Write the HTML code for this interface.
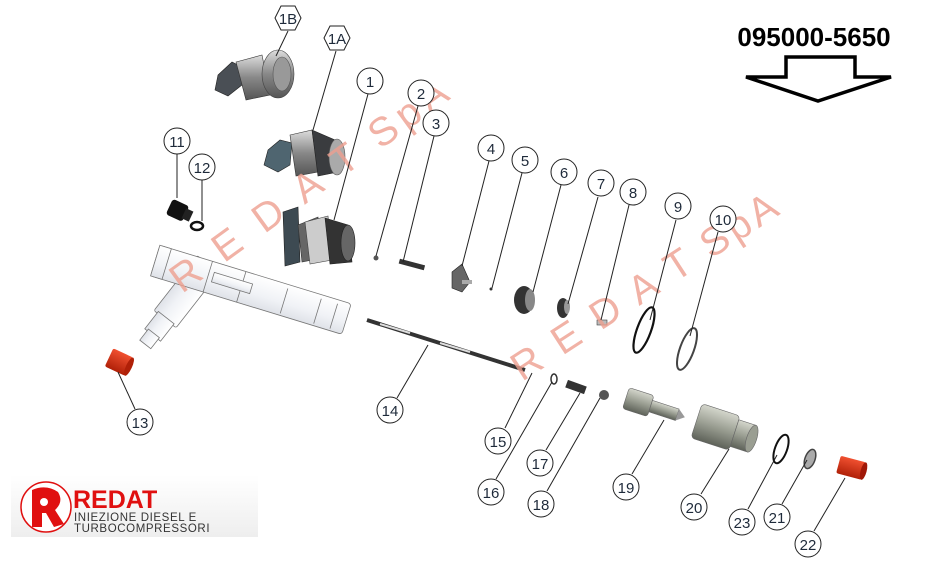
<!DOCTYPE html>
<html><head><meta charset="utf-8"><style>
html,body{margin:0;padding:0;background:#fff;width:929px;height:567px;overflow:hidden}
svg{display:block}
.c{fill:#fff;stroke:#222;stroke-width:1}
.t{font-family:"Liberation Sans",sans-serif;font-size:15px;fill:#1e2a3a;text-anchor:middle}
.l{stroke:#222;stroke-width:1;fill:none}
.wm{font-family:"Liberation Sans",sans-serif;font-size:40px;fill:#eea090;opacity:.8}
</style></head><body>
<svg width="929" height="567" viewBox="0 0 929 567" xmlns="http://www.w3.org/2000/svg">
<defs>
<linearGradient id="lg" x1="0" y1="0" x2="0" y2="1"><stop offset="0" stop-color="#fff"/><stop offset="1" stop-color="#eee"/></linearGradient>
<linearGradient id="met" x1="0" y1="0" x2="0" y2="1"><stop offset="0" stop-color="#ddd"/><stop offset=".5" stop-color="#888"/><stop offset="1" stop-color="#555"/></linearGradient>
<linearGradient id="grn" x1="0" y1="0" x2="0" y2="1"><stop offset="0" stop-color="#d4d6cc"/><stop offset=".5" stop-color="#9a9e92"/><stop offset="1" stop-color="#5e6259"/></linearGradient>
<linearGradient id="wh" x1="0" y1="0" x2="0" y2="1"><stop offset="0" stop-color="#fff"/><stop offset=".6" stop-color="#f0f2f6"/><stop offset="1" stop-color="#dfe2e8"/></linearGradient>
<linearGradient id="red" x1="0" y1="0" x2="0" y2="1"><stop offset="0" stop-color="#f05030"/><stop offset="1" stop-color="#b02008"/></linearGradient>
</defs>

<!-- title -->
<text x="814" y="46" font-family="Liberation Sans,sans-serif" font-weight="bold" font-size="26" text-anchor="middle" fill="#000">095000-5650</text>
<path d="M786,57 L855,57 L855,77 L891,77 L818,101 L746,77 L786,77 Z" fill="#fff" stroke="#000" stroke-width="3.5"/>

<!-- injector body -->
<g stroke="#777" stroke-width="0.8" fill="url(#wh)">
<g transform="rotate(128 205 268)">
<rect x="200" y="254" width="70" height="28" rx="2"/>
<rect x="268" y="258" width="22" height="20"/>
<rect x="288" y="261" width="14" height="14"/>
</g>
<g transform="rotate(17 160 262)">
<rect x="155" y="246" width="200" height="32" rx="3"/>
<rect x="155" y="246" width="12" height="32"/>
<path d="M210,246 L210,278 M245,246 L245,278 M290,250 L290,276 M325,250 L325,276 M342,250 L342,276"/>
<rect x="215" y="256" width="40" height="10"/>
</g>
</g>

<!-- 1B -->
<g>
<path d="M218,75 L232,62 L240,66 L242,85 L228,96 L215,90 Z" fill="#4a4f55" stroke="#222" stroke-width=".6"/>
<path d="M236,62 L262,55 L270,95 L246,100 Z" fill="url(#met)" stroke="#333" stroke-width=".6"/>
<ellipse cx="278" cy="74" rx="16" ry="24" fill="url(#met)" stroke="#444" stroke-width=".6"/>
<ellipse cx="282" cy="74" rx="9" ry="17" fill="#999" stroke="#555" stroke-width=".6"/>
</g>
<!-- 1A -->
<g>
<path d="M268,150 L280,140 L292,143 L290,165 L278,172 L264,165 Z" fill="#4f6570" stroke="#222" stroke-width=".6"/>
<path d="M290,135 L312,130 L318,172 L296,176 Z" fill="url(#met)" stroke="#333" stroke-width=".6"/>
<path d="M312,130 L335,140 L338,172 L318,176 Z" fill="#3a3c3f" stroke="#222" stroke-width=".6"/>
<ellipse cx="337" cy="157" rx="8" ry="18" fill="#aaa" stroke="#555" stroke-width=".6"/>
</g>
<!-- 1 -->
<g>
<path d="M283,212 L298,207 L300,262 L285,266 Z" fill="#3d4a52" stroke="#222" stroke-width=".6"/>
<path d="M298,225 L318,217 L322,258 L302,262 Z" fill="#666" stroke="#333" stroke-width=".6"/>
<path d="M305,222 L328,216 L332,260 L310,264 Z" fill="#ccc" stroke="#444" stroke-width=".6"/>
<path d="M325,218 L348,225 L352,262 L330,264 Z" fill="#333" stroke="#222" stroke-width=".6"/>
<ellipse cx="348" cy="243" rx="7" ry="18" fill="#666" stroke="#222" stroke-width=".6"/>
</g>
<!-- 11, 12 -->
<g transform="rotate(25 180 212)"><rect x="168" y="203" width="18" height="17" rx="3" fill="#111"/><rect x="184" y="206" width="8" height="11" fill="#222"/></g>
<ellipse cx="197" cy="226" rx="6" ry="4" fill="none" stroke="#111" stroke-width="2.5"/>
<!-- 13 -->
<g transform="rotate(25 119 362)"><rect x="108" y="352" width="22" height="20" rx="2" fill="url(#red)"/><ellipse cx="130" cy="362" rx="3" ry="10" fill="#b02008"/></g>
<!-- small parts -->
<circle cx="376" cy="258" r="2.5" fill="#555"/>
<rect x="399" y="262" width="26" height="5" fill="#333" transform="rotate(15 412 264)"/>
<path d="M452,272 L462,264 L470,282 L462,292 L452,288 Z" fill="#666" stroke="#222" stroke-width=".6"/>
<rect x="462" y="280" width="10" height="4" fill="#aaa"/>
<circle cx="491" cy="289" r="1.5" fill="#333"/>
<ellipse cx="524" cy="300" rx="10" ry="14" fill="#333"/><ellipse cx="530" cy="300" rx="5" ry="11" fill="#888"/>
<ellipse cx="563" cy="308" rx="6" ry="10" fill="#333"/><ellipse cx="567" cy="307" rx="3" ry="7" fill="#999"/>
<rect x="597" y="320" width="10" height="5" fill="#bbb" stroke="#444" stroke-width=".6"/>
<ellipse cx="644" cy="330" rx="7" ry="24" fill="none" stroke="#111" stroke-width="2.2" transform="rotate(20 644 330)"/>
<ellipse cx="687" cy="349" rx="7" ry="22" fill="none" stroke="#444" stroke-width="2" transform="rotate(20 687 349)"/>
<!-- 14 rod -->
<path d="M367,320 L525,370" stroke="#333" stroke-width="4"/>
<path d="M380,324 L410,333 M440,343 L470,352" stroke="#ddd" stroke-width="2"/>
<!-- 15-18 -->
<ellipse cx="554" cy="379" rx="3" ry="5" fill="none" stroke="#333" stroke-width="1.5"/>
<rect x="566" y="383" width="20" height="8" fill="#333" transform="rotate(20 576 387)"/>
<ellipse cx="604" cy="395" rx="5" ry="5" fill="#555"/>
<!-- 19 nozzle -->
<g transform="rotate(18 650 408)">
<rect x="624" y="395" width="26" height="22" rx="3" fill="url(#grn)" stroke="#666" stroke-width=".6"/>
<rect x="650" y="400" width="28" height="12" fill="url(#grn)" stroke="#666" stroke-width=".6"/>
<path d="M678,400 L686,406 L678,412 Z" fill="#999"/>
</g>
<!-- 20 -->
<g transform="rotate(18 725 430)">
<rect x="695" y="412" width="40" height="36" rx="4" fill="url(#grn)" stroke="#666" stroke-width=".6"/>
<rect x="735" y="416" width="18" height="28" fill="url(#grn)" stroke="#666" stroke-width=".6"/>
<ellipse cx="753" cy="430" rx="5" ry="14" fill="#9a9e92" stroke="#666" stroke-width=".6"/>
</g>
<!-- 23,21,22 -->
<ellipse cx="781" cy="449" rx="6" ry="15" fill="none" stroke="#111" stroke-width="2" transform="rotate(20 781 449)"/>
<ellipse cx="810" cy="459" rx="5" ry="10" fill="#aaa" stroke="#444" stroke-width="1.5" transform="rotate(20 810 459)"/>
<g transform="rotate(15 852 468)"><rect x="838" y="459" width="26" height="18" rx="2" fill="url(#red)"/><ellipse cx="864" cy="468" rx="3" ry="9" fill="#a01808"/></g>

<!-- watermarks -->
<text class="wm" transform="translate(182,294) rotate(-36)" letter-spacing="6">R E D A T SpA</text>
<text class="wm" transform="translate(522,382) rotate(-33)" letter-spacing="4">R E D A T SpA</text>

<!-- leaders -->
<g class="l">
<line x1="288" y1="31" x2="276" y2="56"/>
<line x1="336" y1="51" x2="313" y2="130"/>
<line x1="368" y1="94" x2="334" y2="220"/>
<line x1="418" y1="106" x2="376" y2="256"/>
<line x1="434" y1="136" x2="403" y2="262"/>
<line x1="489" y1="161" x2="462" y2="266"/>
<line x1="522" y1="173" x2="492" y2="288"/>
<line x1="561" y1="185" x2="533" y2="292"/>
<line x1="598" y1="197" x2="568" y2="304"/>
<line x1="629" y1="205" x2="601" y2="320"/>
<line x1="676" y1="220" x2="650" y2="320"/>
<line x1="718" y1="232" x2="690" y2="336"/>
<line x1="177" y1="154" x2="177" y2="198"/>
<line x1="202" y1="180" x2="202" y2="221"/>
<line x1="135" y1="409" x2="118" y2="372"/>
<line x1="397" y1="398" x2="428" y2="345"/>
<line x1="505" y1="428" x2="532" y2="373"/>
<line x1="496" y1="479" x2="552" y2="382"/>
<line x1="546" y1="450" x2="580" y2="393"/>
<line x1="547" y1="491" x2="600" y2="398"/>
<line x1="632" y1="474" x2="664" y2="420"/>
<line x1="701" y1="494" x2="729" y2="449"/>
<line x1="748" y1="509" x2="777" y2="455"/>
<line x1="782" y1="504" x2="807" y2="460"/>
<line x1="814" y1="531" x2="845" y2="478"/>
</g>

<!-- hex labels -->
<polygon points="275,18 281,6 295,6 301,18 295,30 281,30" class="c"/>
<text x="288" y="24" class="t">1B</text>
<polygon points="324,38 330,26 344,26 350,38 344,50 330,50" class="c"/>
<text x="337" y="44" class="t">1A</text>

<!-- circle labels -->
<g>
<circle cx="370" cy="81" r="13" class="c"/><text x="370" y="87" class="t">1</text>
<circle cx="421" cy="93" r="13" class="c"/><text x="421" y="99" class="t">2</text>
<circle cx="436" cy="123" r="13" class="c"/><text x="436" y="129" class="t">3</text>
<circle cx="491" cy="148" r="13" class="c"/><text x="491" y="154" class="t">4</text>
<circle cx="525" cy="160" r="13" class="c"/><text x="525" y="166" class="t">5</text>
<circle cx="564" cy="172" r="13" class="c"/><text x="564" y="178" class="t">6</text>
<circle cx="601" cy="183" r="13" class="c"/><text x="601" y="189" class="t">7</text>
<circle cx="633" cy="192" r="13" class="c"/><text x="633" y="198" class="t">8</text>
<circle cx="678" cy="206" r="13" class="c"/><text x="678" y="212" class="t">9</text>
<circle cx="723" cy="219" r="13" class="c"/><text x="723" y="225" class="t">10</text>
<circle cx="177" cy="141" r="13" class="c"/><text x="177" y="147" class="t">11</text>
<circle cx="202" cy="167" r="13" class="c"/><text x="202" y="173" class="t">12</text>
<circle cx="140" cy="422" r="13" class="c"/><text x="140" y="428" class="t">13</text>
<circle cx="390" cy="410" r="13" class="c"/><text x="390" y="416" class="t">14</text>
<circle cx="498" cy="441" r="13" class="c"/><text x="498" y="447" class="t">15</text>
<circle cx="491" cy="492" r="13" class="c"/><text x="491" y="498" class="t">16</text>
<circle cx="540" cy="463" r="13" class="c"/><text x="540" y="469" class="t">17</text>
<circle cx="541" cy="504" r="13" class="c"/><text x="541" y="510" class="t">18</text>
<circle cx="626" cy="487" r="13" class="c"/><text x="626" y="493" class="t">19</text>
<circle cx="694" cy="507" r="13" class="c"/><text x="694" y="513" class="t">20</text>
<circle cx="777" cy="517" r="13" class="c"/><text x="777" y="523" class="t">21</text>
<circle cx="808" cy="544" r="13" class="c"/><text x="808" y="550" class="t">22</text>
<circle cx="742" cy="522" r="13" class="c"/><text x="742" y="528" class="t">23</text>
</g>

<!-- logo -->
<rect x="11" y="475" width="247" height="62" fill="url(#lg)"/>
<circle cx="46" cy="507" r="25" fill="#fff" stroke="#e01010" stroke-width="1.5"/>
<path d="M32,490 Q46,484 58,492 Q64,502 55,510 L64,524 L54,527 L46,513 L42,513 L42,527 L32,527 Z" fill="#e01010"/>
<circle cx="44" cy="502" r="4" fill="#fff"/>
<text x="73" y="508" font-family="Liberation Sans,sans-serif" font-weight="bold" font-size="25" fill="#e01010">REDAT</text>
<text x="74" y="521" font-family="Liberation Sans,sans-serif" font-size="11.5" fill="#333" letter-spacing="0.6">INIEZIONE DIESEL E</text>
<text x="74" y="532" font-family="Liberation Sans,sans-serif" font-size="11.5" fill="#333" letter-spacing="0.6">TURBOCOMPRESSORI</text>
</svg>
</body></html>
